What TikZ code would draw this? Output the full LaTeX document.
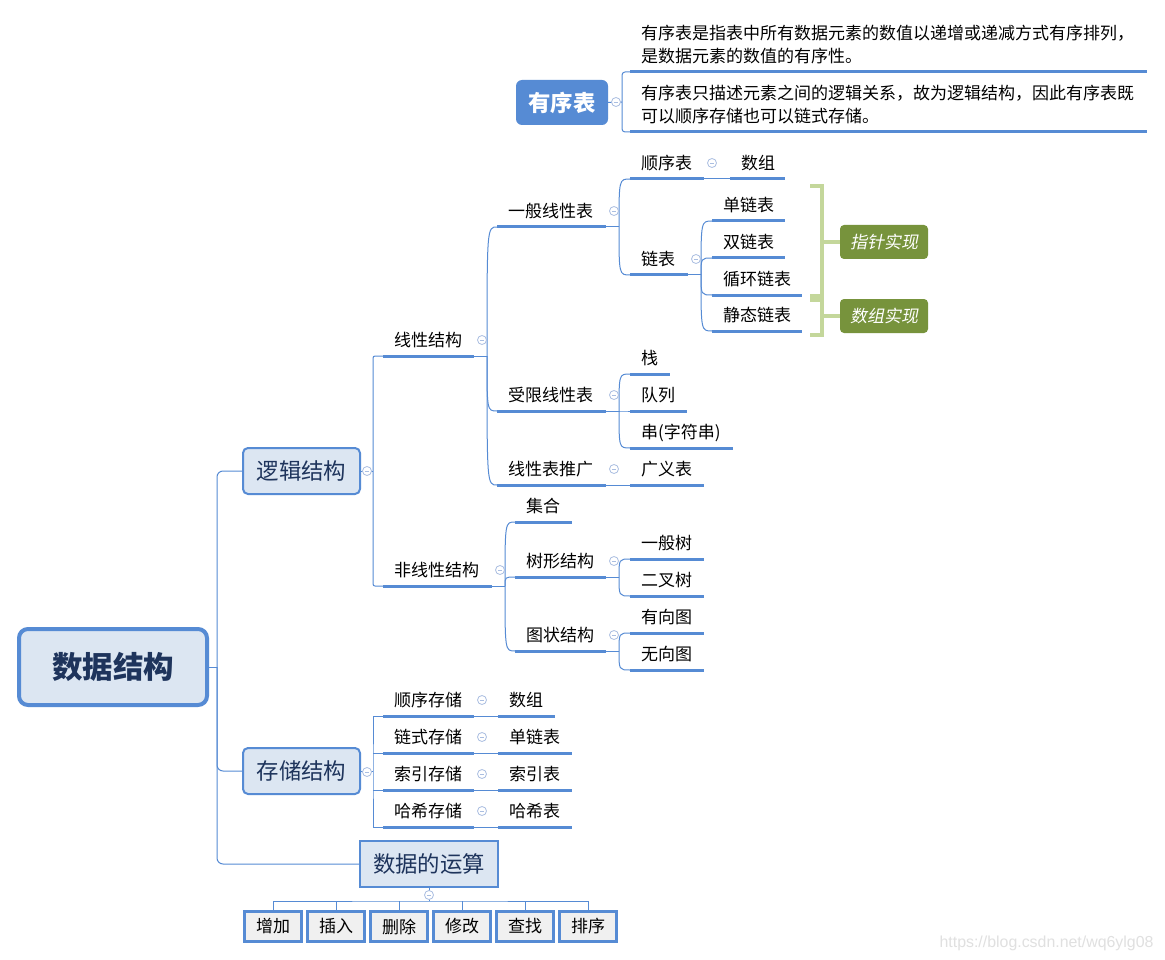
\documentclass[tikz,border=0pt]{standalone}
\usepackage{fontspec}
\setmainfont{Noto Sans CJK SC}
\newfontfamily\slantfont{Noto Sans CJK SC}[FakeSlant=0.2]
\newfontfamily\urlfont{Liberation Sans}
\usetikzlibrary{calc}

\definecolor{mapblue}{RGB}{86,139,212}
\definecolor{boxfill}{RGB}{220,230,242}
\definecolor{boxtext}{RGB}{30,52,92}
\definecolor{foldgray}{RGB}{170,190,225}
\definecolor{bracegreen}{RGB}{196,215,155}
\definecolor{labelgreen}{RGB}{119,147,60}
\definecolor{opfill}{RGB}{240,240,240}

\tikzset{
  conn/.style={mapblue, line width=1pt},
  uline/.style={mapblue, line width=3pt},
  leaf/.style={anchor=south west, inner xsep=11pt, inner ysep=6pt, text depth=3.6pt, font=\fontsize{17}{20}\selectfont},
  topbox/.style={draw=mapblue, line width=2pt, fill=boxfill, text=boxtext, rounded corners=5pt, minimum width=117pt, minimum height=46pt, font=\fontsize{22.4}{26}\selectfont},
  opbox/.style={draw=mapblue, line width=3pt, fill=opfill, minimum width=57pt, minimum height=30pt, inner sep=0pt, font=\fontsize{17}{20}\selectfont},
  fold/.style={circle, draw=foldgray, line width=0.8pt, fill=white, minimum size=9pt, inner sep=0pt,
    path picture={\draw[foldgray, line width=0.8pt] ([xshift=-2.2pt]path picture bounding box.center) -- ([xshift=2.2pt]path picture bounding box.center);}},
  tag/.style={fill=labelgreen, text=white, rounded corners=4pt, minimum width=88pt, minimum height=34pt, font=\slantfont\fontsize{17}{20}\selectfont},
  brace/.style={bracegreen, line width=4pt},
}

\begin{document}
\begin{tikzpicture}[x=1pt, y=-1pt]
\fill[white] (0,0) rectangle (1165,960);
\useasboundingbox (0,0) rectangle (1165,960);

% 根节点与一级分支
\node[draw=mapblue, line width=4pt, fill=boxfill, text=boxtext, rounded corners=9pt, minimum width=188pt, minimum height=76pt, font=\bfseries\fontsize{30.5}{34}\selectfont] (root) at (113,667) {数据结构};
\node[topbox] (ljjg) at (301.5,471) {逻辑结构};
\node[topbox] (ccjg) at (301.5,771) {存储结构};
\node[topbox, rounded corners=0pt, minimum width=138pt] (sjys) at (429,864) {数据的运算};
\coordinate (rt) at (217,667);
\draw[conn] (root.east) -- (rt);
\draw[conn, rounded corners=6pt] (ljjg.west) -| (rt) |- (sjys.west);
\draw[conn, rounded corners=6pt] (rt) |- (ccjg.west);

% 有序表
\node[fill=mapblue, text=white, rounded corners=6pt, minimum width=92pt, minimum height=45pt, font=\bfseries\fontsize{22.4}{26}\selectfont] (yxb) at (562,102.5) {有序表};
\node[anchor=north west, inner sep=0pt, align=left, font=\fontsize{17}{23}\selectfont] (def1) at (641,25)
  {有序表是指表中所有数据元素的数值以递增或递减方式有序排列，\\是数据元素的数值的有序性。};
\node[anchor=north west, inner sep=0pt, align=left, font=\fontsize{17}{23}\selectfont] (def2) at (641,85)
  {有序表只描述元素之间的逻辑关系，故为逻辑结构，因此有序表既\\可以顺序存储也可以链式存储。};
\coordinate (d1l) at (630,72);
\coordinate (d2l) at (630,132);
\coordinate (jyxb) at (622,102);
\draw[uline] (d1l) -- ++(517,0);
\draw[uline] (d2l) -- ++(517,0);
\draw[conn] (yxb.east) -- (jyxb);
\draw[conn, rounded corners=3pt] (d1l) -| (jyxb) |- (d2l);

% 逻辑结构
\node[leaf] (xxjg) at (383,356) {线性结构};
\node[leaf] (fxxjg) at (383,586) {非线性结构};
\node[leaf] (ybxxb) at (497,227) {一般线性表};
\node[leaf] (sxxxb) at (497,411) {受限线性表};
\node[leaf] (xxbtg) at (497,485) {线性表推广};
\node[leaf] (sxb) at (630,179) {顺序表};
\node[leaf] (sz1) at (730,179) {数组};
\node[leaf] (lb) at (630,275) {链表};
\node[leaf] (dlb) at (712,221) {单链表};
\node[leaf] (sllb) at (712,258) {双链表};
\node[leaf] (xhlb) at (712,295) {循环链表};
\node[leaf] (jtlb) at (712,331) {静态链表};
\node[leaf] (zhan) at (630,374) {栈};
\node[leaf] (dl) at (630,411) {队列};
\node[leaf] (chuan) at (630,448) {串(字符串)};
\node[leaf] (gyb) at (630,485) {广义表};
\node[leaf] (jh) at (515,522) {集合};
\node[leaf] (sxjg) at (515,577) {树形结构};
\node[leaf] (tzjg) at (515,651) {图状结构};
\node[leaf] (ybs) at (630,559) {一般树};
\node[leaf] (ecs) at (630,596) {二叉树};
\node[leaf] (yxt) at (630,633) {有向图};
\node[leaf] (wxt) at (630,670) {无向图};

% 存储结构
\node[leaf] (sxcc) at (383,716) {顺序存储};
\node[leaf] (lscc) at (383,753) {链式存储};
\node[leaf] (sycc) at (383,790) {索引存储};
\node[leaf] (hxcc) at (383,827) {哈希存储};
\node[leaf] (sz2) at (498,716) {数组};
\node[leaf] (dlb2) at (498,753) {单链表};
\node[leaf] (syb) at (498,790) {索引表};
\node[leaf] (hxb) at (498,827) {哈希表};

% 下划线
\foreach \n/\w in {xxjg/91, fxxjg/109, ybxxb/109, sxxxb/109, xxbtg/109, sxb/74, sz1/55, lb/58,
    dlb/73, sllb/73, xhlb/90, jtlb/90, zhan/40, dl/57, chuan/103, gyb/74, jh/57, sxjg/91, tzjg/91,
    ybs/74, ecs/74, yxt/74, wxt/74, sxcc/91, lscc/91, sycc/91, hxcc/91, sz2/57, dlb2/74, syb/74, hxb/74}
  \draw[uline] (\n.south west) -- ++(\w,0) coordinate (\n-r);

% 连线
\coordinate (jlj) at (373,471);
\draw[conn] (ljjg.east) -- (jlj);
\draw[conn, rounded corners=2pt] (xxjg.south west) -| (jlj) |- (fxxjg.south west);
\foreach \p/\cs in {xxjg/{ybxxb,sxxxb,xxbtg}, ybxxb/{sxb,lb}, lb/{dlb,sllb,xhlb,jtlb},
    sxxxb/{zhan,dl,chuan}, fxxjg/{jh,sxjg,tzjg}, sxjg/{ybs,ecs}, tzjg/{yxt,wxt}}{
  \coordinate (j-\p) at ($(\p-r)+(13,0)$);
  \draw[conn] (\p-r) -- (j-\p);
  \foreach \c in \cs
    \draw[conn] (j-\p) .. controls (j-\p |- \c.south west) .. (\c.south west);
}
\draw[conn] (sxb-r) -- (sz1.south west);
\draw[conn] (xxbtg-r) -- (gyb.south west);

\coordinate (jcc) at (373,771);
\draw[conn] (ccjg.east) -- (jcc);
\draw[conn] (sxcc.south west) -| (jcc) |- (hxcc.south west);
\draw[conn] (jcc |- lscc.south west) -- (lscc.south west);
\draw[conn] (jcc |- sycc.south west) -- (sycc.south west);
\foreach \a/\b in {sxcc/sz2, lscc/dlb2, sycc/syb, hxcc/hxb}
  \draw[conn] (\a-r) -- (\b.south west);

% 数据的运算
\foreach \t [count=\i] in {增加,插入,删除,修改,查找,排序}
  \node[opbox] (op\i) at ({273+63*(\i-1)},926.5) {\t};
\coordinate (jop) at (429,901);
\draw[conn] (sjys.south) -- (jop);
\draw[conn] (op1.north) |- (jop) -| (op6.north);
\foreach \i in {2,...,5}
  \draw[conn] (op\i.north) -- (op\i.north |- jop);

% 折叠按钮
\node[fold] (f-ljjg) at (367,471) {};
\node[fold] (f-ccjg) at (367,772) {};
\node[fold] (f-yxb) at (616,102) {};
\node[fold] (f-sjys) at (429,895) {};
\foreach \n in {xxjg, ybxxb, sxb, lb, sxxxb, xxbtg, fxxjg, sxjg, tzjg, sxcc, lscc, sycc, hxcc}
  \node[fold] (f-\n) at ($(\n-r)+(8,-16)$) {};

% 实现方式
\node[tag] (zzsx) at (884,242) {指针实现};
\node[tag] (szsx) at (884,316) {数组实现};
\draw[brace] (810,186) -| (822,296) -- (810,296);
\draw[brace] (822,242) -- (zzsx.west);
\draw[brace] (810,300) -| (822,335) -- (810,335);
\draw[brace] (822,316) -- (szsx.west);

\node[anchor=base east, text=black!12, font=\urlfont\fontsize{15.9}{18}\selectfont] (wm) at (1157,947) {https://blog.csdn.net/wq6ylg08};
\end{tikzpicture}
\end{document}
